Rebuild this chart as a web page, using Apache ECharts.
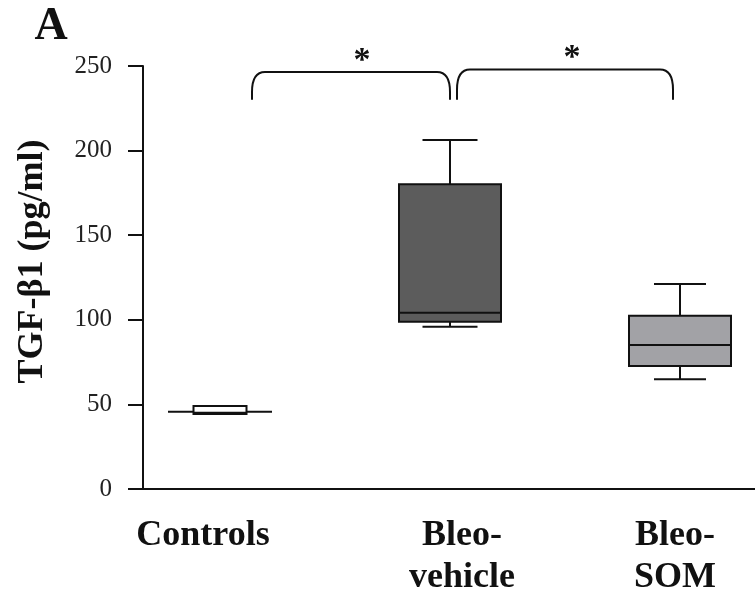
<!DOCTYPE html>
<html>
<head>
<meta charset="utf-8">
<script src="https://cdn.jsdelivr.net/npm/echarts@6/dist/echarts.min.js"></script>
<style>
html,body{margin:0;padding:0;background:#fff;}
#chart{width:755px;height:602px;}
</style>
</head>
<body>
<div id="chart"></div>
<script>
// ---- data ----
var categories = ['Controls', 'Bleo-\nvehicle', 'Bleo-\nSOM'];
var mins    = [45.6, 95.9, 64.8];
var q1s     = [44.3, 98.9, 72.7];
var medians = [45.0, 104.2, 85.1];
var q3s     = [49.0, 180.1, 102.4];
var maxs    = [49.0, 206.3, 121.2];
var yTicks  = [0, 50, 100, 150, 200, 250];
var sigFrom   = [0, 1];
var sigTo     = [1, 2];
var sigBottom = [230, 230];
var sigTop    = [246.5, 248];
var sigLabels = ['*', '*'];
var panelLetter = 'A';
var yAxisTitle = 'TGF-\u03b21 (pg/ml)';

// ---- styles ----
var boxWidths = [53, 102, 102];
var capTopWidths = [53, 55, 52];
var capBottomWidths = [104, 55, 52];
var boxFills  = ['#ffffff', '#5c5c5c', '#a2a2a6'];
var labelShift = [-17, 12, -5];
var bracketInsets = [[32, 0], [7, -7]];
var starDx = [11, 7];
var ink = '#111111';
var serif = "'Liberation Serif', 'Times New Roman', serif";

var boxRows = categories.map(function (c, i) {
  return [i, mins[i], q1s[i], medians[i], q3s[i], maxs[i]];
});
var sigRows = sigFrom.map(function (f, i) {
  return [f, sigTo[i], sigBottom[i], sigTop[i]];
});

var chart = echarts.init(document.getElementById('chart'), null, {renderer: 'canvas'});

var option = {
  animation: false,
  backgroundColor: '#ffffff',
  graphic: [{
    type: 'text',
    x: 51, y: 27,
    style: {
      text: panelLetter,
      font: 'bold 46px ' + serif,
      fill: ink,
      align: 'center',
      verticalAlign: 'middle'
    }
  }],
  grid: [
    {left: 220, right: 75, top: 66, bottom: 113},
    {left: 143, right: 0, top: 66, bottom: 113}
  ],
  xAxis: [
    {
      gridIndex: 0,
      type: 'category',
      data: categories,
      boundaryGap: false,
      axisLine: {show: false},
      axisTick: {show: false},
      splitLine: {show: false},
      axisLabel: {
        interval: 0,
        margin: 26,
        formatter: function (v, idx) {
          var s = labelShift[idx];
          var style = s < 0 ? 'l' + idx : 'r' + idx;
          return '{' + style + '|' + v.split('\n').join('}\n{' + style + '|') + '}';
        },
        rich: (function () {
          var r = {};
          labelShift.forEach(function (s, idx) {
            var base = {fontSize: 36, fontWeight: 'bold', fontFamily: serif, color: ink, lineHeight: 42};
            var key = s < 0 ? 'l' + idx : 'r' + idx;
            base.padding = s < 0 ? [0, -2 * s, 0, 0] : [0, 0, 0, 2 * s];
            r[key] = base;
          });
          return r;
        })()
      }
    },
    {
      gridIndex: 1,
      type: 'value',
      min: 0, max: 1,
      axisLine: {show: true, onZero: false, lineStyle: {color: ink, width: 2}},
      axisTick: {show: false},
      axisLabel: {show: false},
      splitLine: {show: false}
    }
  ],
  yAxis: [
    {
      gridIndex: 0,
      type: 'value',
      min: yTicks[0], max: yTicks[yTicks.length - 1],
      show: false
    },
    {
      gridIndex: 1,
      type: 'value',
      min: yTicks[0], max: yTicks[yTicks.length - 1],
      interval: yTicks[1] - yTicks[0],
      name: yAxisTitle,
      nameLocation: 'middle',
      nameGap: 92,
      nameTextStyle: {
        fontSize: 36, fontWeight: 'bold', fontFamily: serif, color: ink,
        padding: [0, 0, 0, 32]
      },
      axisLine: {show: true, lineStyle: {color: ink, width: 2}},
      axisTick: {show: true, length: 15, lineStyle: {color: ink, width: 2}},
      axisLabel: {fontSize: 25, fontFamily: serif, color: '#222', margin: 31},
      splitLine: {show: false}
    }
  ],
  series: [
    {
      type: 'custom',
      xAxisIndex: 0, yAxisIndex: 0,
      clip: false,
      data: boxRows,
      encode: {x: 0, y: [1, 2, 3, 4, 5]},
      renderItem: function (params, api) {
        var i = params.dataIndex;
        var cat = api.value(0);
        var x = api.coord([cat, 0])[0];
        var yMin = api.coord([cat, api.value(1)])[1];
        var yQ1 = api.coord([cat, api.value(2)])[1];
        var yMed = api.coord([cat, api.value(3)])[1];
        var yQ3 = api.coord([cat, api.value(4)])[1];
        var yMax = api.coord([cat, api.value(5)])[1];
        var bw = boxWidths[i], ct = capTopWidths[i], cb = capBottomWidths[i];
        var ls = {stroke: ink, lineWidth: 2};
        return {
          type: 'group',
          children: [
            {type: 'line', shape: {x1: x, y1: yMax, x2: x, y2: yQ3}, style: ls},
            {type: 'line', shape: {x1: x, y1: yQ1, x2: x, y2: yMin}, style: ls},
            {type: 'line', shape: {x1: x - ct / 2, y1: yMax, x2: x + ct / 2, y2: yMax}, style: ls},
            {type: 'line', shape: {x1: x - cb / 2, y1: yMin, x2: x + cb / 2, y2: yMin}, style: ls},
            {type: 'rect', shape: {x: x - bw / 2, y: yQ3, width: bw, height: yQ1 - yQ3},
              style: {fill: boxFills[i], stroke: ink, lineWidth: 2}},
            {type: 'line', shape: {x1: x - bw / 2, y1: yMed, x2: x + bw / 2, y2: yMed}, style: ls}
          ]
        };
      }
    },
    {
      type: 'custom',
      xAxisIndex: 0, yAxisIndex: 0,
      clip: false,
      data: sigRows,
      encode: {x: [0, 1], y: [2, 3]},
      renderItem: function (params, api) {
        var i = params.dataIndex;
        var pA = api.coord([api.value(0), api.value(2)]);
        var pB = api.coord([api.value(1), api.value(3)]);
        var x1 = pA[0] + bracketInsets[i][0];
        var x2 = pB[0] + bracketInsets[i][1];
        var yb = pA[1];
        var yt = pB[1];
        var r = 13;
        var path = 'M' + x1 + ',' + yb +
          ' L' + x1 + ',' + (yt + 20) +
          ' Q' + x1 + ',' + yt + ' ' + (x1 + r) + ',' + yt +
          ' L' + (x2 - r) + ',' + yt +
          ' Q' + x2 + ',' + yt + ' ' + x2 + ',' + (yt + 20) +
          ' L' + x2 + ',' + yb;
        return {
          type: 'group',
          children: [
            {type: 'path', shape: {pathData: path},
              style: {fill: 'none', stroke: ink, lineWidth: 2}},
            {type: 'text', x: (x1 + x2) / 2 + starDx[i], y: yt - 11,
              style: {text: sigLabels[i], font: 'bold 34px ' + serif, fill: ink,
                align: 'center', verticalAlign: 'middle'}}
          ]
        };
      }
    }
  ]
};
chart.setOption(option);
</script>
</body>
</html>
